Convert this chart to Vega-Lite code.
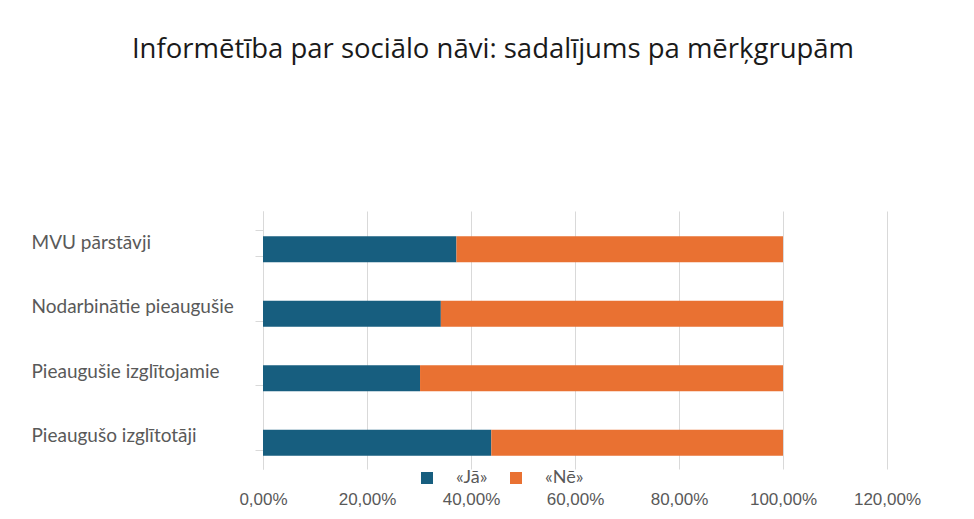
{
  "$schema": "https://vega.github.io/schema/vega-lite/v6.json",
  "autosize": "none",
  "width": 624,
  "height": 258,
  "padding": {"left": 263, "top": 211, "right": 87, "bottom": 50},
  "background": "white",
  "title": {
    "text": "Informētība par sociālo nāvi: sadalījums pa mērķgrupām",
    "font": "Open Sans",
    "fontSize": 27.5,
    "fontWeight": "normal",
    "color": "#1a1a1a",
    "anchor": "middle",
    "dx": -82,
    "baseline": "alphabetic",
    "offset": 117
  },
  "data": {
    "values": [
      {"grupa": "MVU pārstāvji", "atbilde": "«Jā»", "daļa": 0.372},
      {"grupa": "MVU pārstāvji", "atbilde": "«Nē»", "daļa": 0.628},
      {"grupa": "Nodarbinātie pieaugušie", "atbilde": "«Jā»", "daļa": 0.342},
      {"grupa": "Nodarbinātie pieaugušie", "atbilde": "«Nē»", "daļa": 0.658},
      {"grupa": "Pieaugušie izglītojamie", "atbilde": "«Jā»", "daļa": 0.302},
      {"grupa": "Pieaugušie izglītojamie", "atbilde": "«Nē»", "daļa": 0.698},
      {"grupa": "Pieaugušo izglītotāji", "atbilde": "«Jā»", "daļa": 0.439},
      {"grupa": "Pieaugušo izglītotāji", "atbilde": "«Nē»", "daļa": 0.561}
    ]
  },
  "mark": {"type": "bar", "yOffset": 6},
  "encoding": {
    "y": {
      "field": "grupa",
      "type": "nominal",
      "sort": ["MVU pārstāvji", "Nodarbinātie pieaugušie", "Pieaugušie izglītojamie", "Pieaugušo izglītotāji"],
      "scale": {"paddingInner": 0.6, "paddingOuter": 0.3},
      "axis": {
        "title": null,
        "domainColor": "#d9d9d9",
        "tickColor": "#d9d9d9",
        "tickSize": 8,
        "tickBand": "extent",
        "labelAlign": "left",
        "labelPadding": 224,
        "labelOffset": -1,
        "labelLimit": 0,
        "labelFont": "Lato",
        "labelFontSize": 19,
        "labelColor": "#595959"
      }
    },
    "x": {
      "field": "daļa",
      "type": "quantitative",
      "stack": "zero",
      "scale": {"domain": [0, 1.2], "nice": false},
      "axis": {
        "title": null,
        "values": [0, 0.2, 0.4, 0.6, 0.8, 1.0, 1.2],
        "labelExpr": "replace(format(datum.value, '.2%'), '.', ',')",
        "domain": false,
        "ticks": false,
        "gridColor": "#d9d9d9",
        "labelPadding": 22,
        "labelOverlap": false,
        "labelBound": false,
        "labelFlush": false,
        "labelFont": "Liberation Sans",
        "labelFontSize": 17,
        "labelColor": "#595959"
      }
    },
    "color": {
      "field": "atbilde",
      "type": "nominal",
      "scale": {"domain": ["«Jā»", "«Nē»"], "range": ["#175e7f", "#e97132"]},
      "legend": {
        "title": null,
        "orient": "none",
        "direction": "horizontal",
        "legendX": 155,
        "legendY": 258,
        "symbolType": "square",
        "symbolSize": 144,
        "symbolStrokeWidth": 0,
        "labelFont": "Lato",
        "labelFontSize": 18,
        "labelColor": "#595959",
        "columnPadding": 19,
        "labelOffset": 20
      }
    },
    "order": {"field": "atbilde", "sort": "ascending"}
  },
  "config": {
    "view": {"stroke": null}
  }
}
